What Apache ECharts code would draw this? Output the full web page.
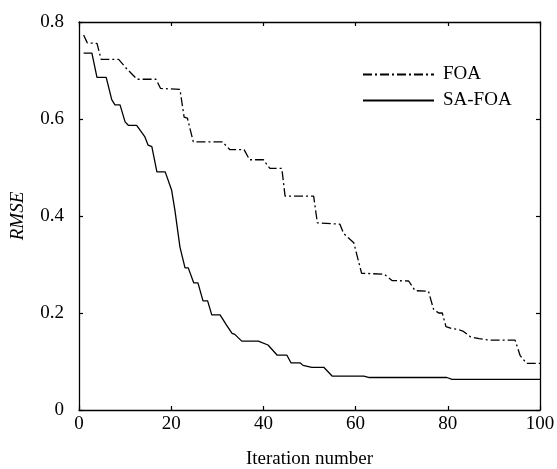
<!DOCTYPE html>
<html>
<head>
<meta charset="utf-8">
<script src="https://cdn.jsdelivr.net/npm/echarts@6/dist/echarts.min.js"></script>
<style>
html,body{margin:0;padding:0;background:#fff;}
#chart{width:557px;height:469px;}
</style>
</head>
<body>
<div id="chart"></div>
<script>
// ---- data ----
var xTicks = [0, 20, 40, 60, 80, 100];
var yTicks = [0, 0.2, 0.4, 0.6, 0.8];
var seriesNames = ['FOA', 'SA-FOA'];

var foaIter = [1, 1.8, 3.9, 4.8, 8.6, 10.2, 12.6, 16.7, 17.7, 21.9, 22.8, 23.5, 24.8, 31.1, 32.7, 35.8, 37, 40, 41.4, 44, 44.7, 50.9, 51.7, 56.6, 57.4, 59.6, 61.3, 66.2, 67.9, 71.5, 72.9, 75.8, 76.9, 78, 78.8, 79.6, 80.9, 82.3, 83.4, 84.9, 86.8, 89.2, 94.6, 95.7, 97.1, 100];
var foaRmse = [0.773, 0.757, 0.756, 0.723, 0.723, 0.705, 0.682, 0.682, 0.663, 0.661, 0.604, 0.602, 0.553, 0.553, 0.537, 0.537, 0.516, 0.516, 0.498, 0.498, 0.441, 0.441, 0.386, 0.383, 0.364, 0.345, 0.282, 0.280, 0.267, 0.266, 0.246, 0.245, 0.208, 0.200, 0.200, 0.172, 0.168, 0.166, 0.162, 0.151, 0.147, 0.144, 0.144, 0.112, 0.096, 0.096];

var saIter = [1, 2.8, 3.9, 5.9, 7.1, 7.8, 8.9, 10, 10.7, 12.5, 14.3, 15, 15.8, 16.9, 18.7, 20.1, 20.8, 21.9, 23, 23.7, 24.9, 25.8, 26.9, 27.9, 28.8, 30.6, 32, 33.2, 33.8, 35.3, 38.9, 41, 43, 45.1, 46, 48, 48.6, 50.5, 53.1, 54.9, 61.8, 63, 79.8, 80.9, 100];
var saRmse = [0.736, 0.736, 0.686, 0.686, 0.640, 0.629, 0.629, 0.594, 0.587, 0.587, 0.563, 0.546, 0.543, 0.491, 0.491, 0.453, 0.412, 0.336, 0.293, 0.293, 0.262, 0.262, 0.225, 0.225, 0.196, 0.196, 0.175, 0.158, 0.156, 0.142, 0.142, 0.134, 0.113, 0.113, 0.097, 0.097, 0.092, 0.088, 0.088, 0.070, 0.070, 0.067, 0.067, 0.063, 0.063];

function zip(a, b) { return a.map(function (v, i) { return [v, b[i]]; }); }

var FONT = '"Liberation Serif", "DejaVu Serif", serif';
var FS = 19;
var axisLine = { show: true, onZero: false, lineStyle: { color: '#000', width: 1.3 } };
var tick = { show: true, inside: true, length: 4, lineStyle: { color: '#000', width: 1.2 } };
var dashDot = [9, 3, 2, 3];

var chart = echarts.init(document.getElementById('chart'), null, { renderer: 'canvas' });
chart.setOption({
  animation: false,
  backgroundColor: '#fff',
  grid: { left: 79, right: 17, top: 22, bottom: 59, containLabel: false, outerBoundsMode: 'none' },
  legend: {
    orient: 'vertical',
    left: 362, top: 65, padding: 0,
    itemWidth: 71, itemHeight: 14, itemGap: 7,
    itemStyle: { opacity: 0 },
    textStyle: { fontFamily: FONT, fontSize: FS, color: '#000', padding: [0, 0, 0, 4] },
    data: seriesNames
  },
  xAxis: [{
    type: 'value', min: xTicks[0], max: xTicks[xTicks.length - 1], interval: 20,
    name: 'Iteration number', nameLocation: 'middle', nameGap: 40,
    nameTextStyle: { fontFamily: FONT, fontSize: FS, color: '#000' },
    axisLine: axisLine, axisTick: tick,
    axisLabel: { fontFamily: FONT, fontSize: FS, color: '#000', margin: 5 },
    splitLine: { show: false }
  }, {
    type: 'value', position: 'top', min: 0, max: 100, interval: 20,
    axisLine: axisLine, axisTick: tick, axisLabel: { show: false }, splitLine: { show: false }
  }],
  yAxis: [{
    type: 'value', min: yTicks[0], max: yTicks[yTicks.length - 1], interval: 0.2,
    name: 'RMSE', nameLocation: 'middle', nameGap: 52,
    nameTextStyle: { fontFamily: FONT, fontSize: FS, fontStyle: 'italic', color: '#000' },
    axisLine: axisLine, axisTick: tick,
    axisLabel: { fontFamily: FONT, fontSize: FS, color: '#000', margin: 15 },
    splitLine: { show: false }
  }, {
    type: 'value', position: 'right', min: 0, max: 0.8, interval: 0.2,
    axisLine: axisLine, axisTick: tick, axisLabel: { show: false }, splitLine: { show: false }
  }],
  series: [{
    name: seriesNames[0], type: 'line', symbol: 'none',
    data: zip(foaIter, foaRmse),
    lineStyle: { color: '#000', width: 1.3, type: dashDot },
    itemStyle: { color: '#000' }
  }, {
    name: seriesNames[1], type: 'line', symbol: 'none',
    data: zip(saIter, saRmse),
    lineStyle: { color: '#000', width: 1.3, type: 'solid' },
    itemStyle: { color: '#000' }
  }]
});
</script>
</body>
</html>
